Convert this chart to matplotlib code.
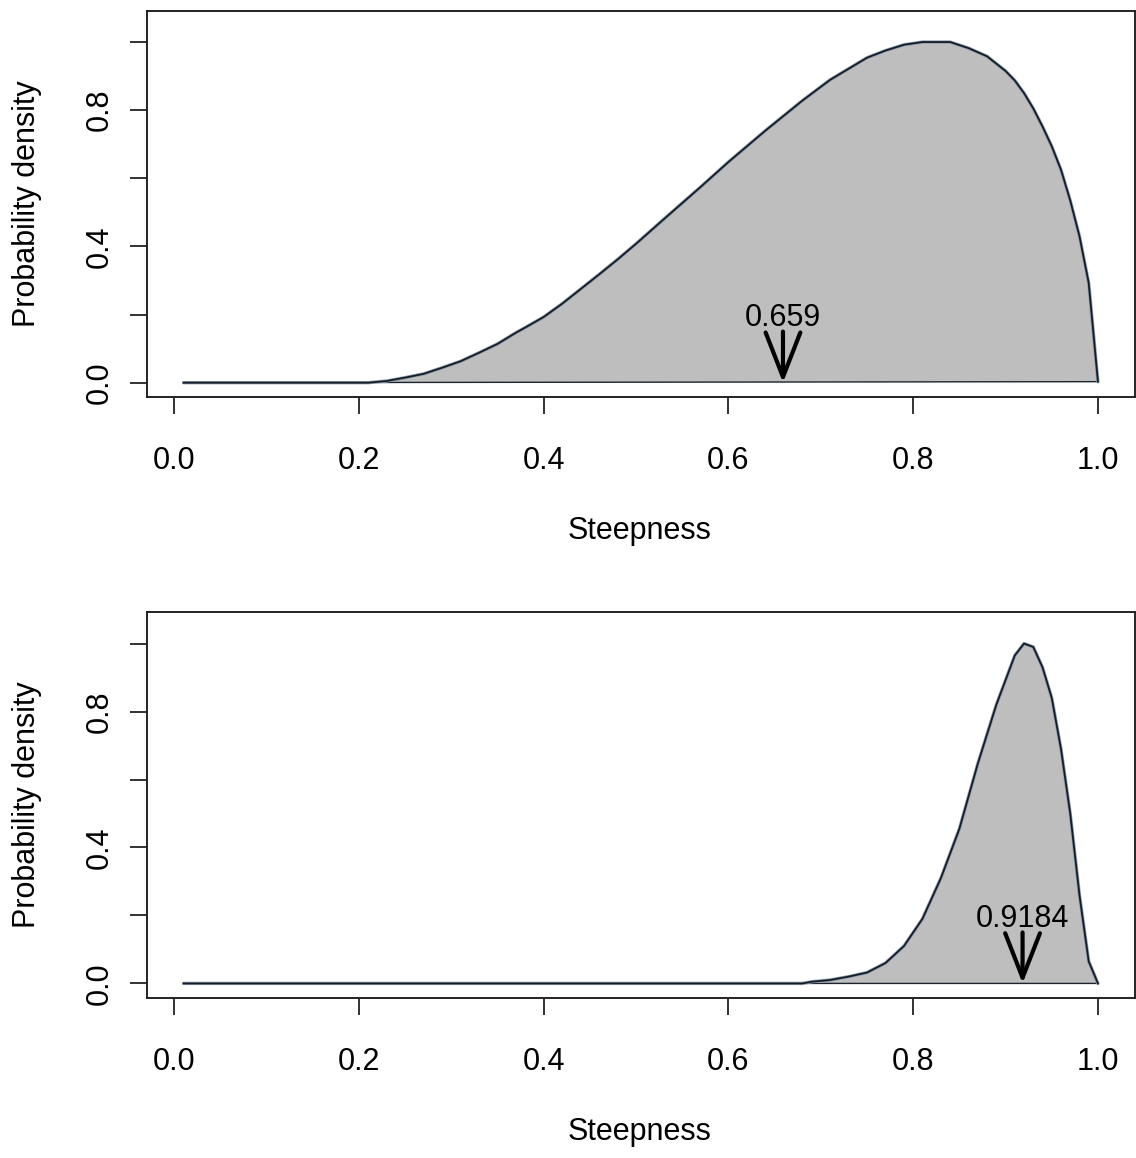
import numpy as np
import matplotlib
matplotlib.use('Agg')
import matplotlib.pyplot as plt

plt.rcParams['font.family'] = ['Liberation Sans', 'DejaVu Sans']

# prior density of steepness (scaled to max 1)
prior_x = [0.01, 0.21, 0.23, 0.25, 0.27, 0.29, 0.31, 0.33, 0.35, 0.37, 0.38,
           0.40, 0.42, 0.44, 0.46, 0.48, 0.50, 0.53, 0.57, 0.60, 0.64, 0.68,
           0.71, 0.75, 0.77, 0.79, 0.81, 0.84, 0.86, 0.88, 0.90, 0.91, 0.92,
           0.93, 0.94, 0.95, 0.96, 0.97, 0.98, 0.99, 1.00]
prior_y = [0.0, 0.0, 0.005, 0.015, 0.026, 0.044, 0.063, 0.088, 0.114, 0.147, 0.162,
           0.193, 0.232, 0.275, 0.318, 0.362, 0.408, 0.48, 0.575, 0.648, 0.740, 0.828,
           0.889, 0.954, 0.975, 0.992, 1.0, 1.0, 0.982, 0.958, 0.915, 0.887, 0.85,
           0.805, 0.752, 0.694, 0.625, 0.535, 0.43, 0.293, 0.003]
prior_mean = 0.659

# posterior density
post_x = [0.01, 0.68, 0.69, 0.71, 0.73, 0.75, 0.77, 0.79, 0.81, 0.83, 0.85,
          0.87, 0.89, 0.91, 0.92, 0.93, 0.94, 0.95, 0.96, 0.97, 0.98, 0.99, 1.00]
post_y = [0.0, 0.0, 0.005, 0.01, 0.02, 0.032, 0.06, 0.11, 0.19, 0.31, 0.455,
          0.647, 0.82, 0.965, 1.0, 0.99, 0.93, 0.84, 0.69, 0.50, 0.26, 0.065, 0.0]
post_mean = 0.9184

x_ticks = [0.0, 0.2, 0.4, 0.6, 0.8, 1.0]
y_ticks = [0.0, 0.2, 0.4, 0.6, 0.8, 1.0]
y_ticklabels = ['0.0', '', '0.4', '', '0.8', '']

W, H = 1136, 1158
FS = 22

fig = plt.figure(figsize=(W / 100, H / 100), dpi=100)


def panel(top_px, bottom_px, xs, ys, mean):
    left_px, right_px = 147, 1134.5
    ax = fig.add_axes([left_px / W, 1 - bottom_px / H,
                       (right_px - left_px) / W, (bottom_px - top_px) / H])
    xs = np.asarray(xs)
    ys = np.asarray(ys)
    ax.fill(xs, ys, facecolor='#BEBEBE', edgecolor='#1c232c', lw=1.0, zorder=1)
    ax.plot(xs, ys, color='#8c9cad', lw=2.4, solid_capstyle='round', zorder=2)
    ax.plot(xs, ys, color='#161c24', lw=1.3, zorder=3)

    ax.annotate('', xy=(mean, 0.0), xytext=(mean, 0.15),
                arrowprops=dict(arrowstyle='->,head_length=3.2,head_width=1.25',
                                mutation_scale=10, lw=3.0, color='black',
                                shrinkA=0, shrinkB=0), zorder=4)
    ax.text(mean, 0.19, f'{mean:g}', ha='center', va='center', fontsize=FS, zorder=5)

    ax.set_xlim(-0.0296, 1.0396)
    ax.set_ylim(-0.042, 1.092)
    ax.set_xticks(x_ticks)
    ax.set_xticklabels([f'{t:.1f}' for t in x_ticks])
    ax.set_yticks(y_ticks)
    ax.set_yticklabels(y_ticklabels)
    ax.tick_params(axis='both', direction='out', length=12.2, width=1.3,
                   labelsize=FS, color='#222222')
    ax.tick_params(axis='x', pad=23)
    ax.tick_params(axis='y', pad=11)
    for lab in ax.get_yticklabels():
        lab.set_rotation(90)
        lab.set_va('center')
        lab.set_ha('right')
    for sp in ax.spines.values():
        sp.set_linewidth(1.4)
        sp.set_color('#222222')

    mid_y = (top_px + bottom_px) / 2
    fig.text(27 / W, 1 - mid_y / H, 'Probability density', rotation=90,
             ha='center', va='center', fontsize=FS)
    fig.text(640 / W, 1 - (bottom_px + 142) / H, 'Steepness',
             ha='center', va='baseline', fontsize=FS)
    return ax


panel(10.7, 397, prior_x, prior_y, prior_mean)
panel(612.3, 997.7, post_x, post_y, post_mean)

fig.savefig('out.png', dpi=100)
